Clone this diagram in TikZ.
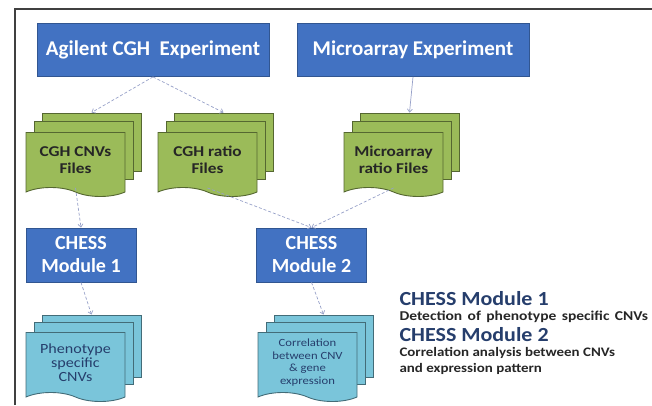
\documentclass[tikz,border=0pt]{standalone}
\usepackage{fontspec}
\setmainfont{Carlito}
\newfontfamily\widefont{Carlito}[FakeStretch=1.15]
\newfontfamily\titlefont{Carlito}[FakeStretch=1.1]
\usetikzlibrary{shapes.symbols,arrows.meta,positioning}

\definecolor{boxblue}{RGB}{66,114,194}
\definecolor{docgreen}{RGB}{155,187,89}
\definecolor{docaqua}{RGB}{122,197,218}
\definecolor{navy}{RGB}{38,62,108}
\definecolor{flowgray}{RGB}{150,160,200}

\begin{document}
\begin{tikzpicture}[x=1pt, y=1pt,
    expbox/.style={rectangle, fill=boxblue, draw=boxblue!75!black,
        line width=0.8pt, text=white, font=\fontsize{21}{23}\selectfont\bfseries,
        minimum width=232pt, minimum height=53pt},
    chessbox/.style={rectangle, fill=boxblue, draw=boxblue!75!black,
        line width=0.8pt, text=white, align=center,
        font=\fontsize{20}{23}\selectfont\bfseries,
        minimum width=110pt, minimum height=54pt},
    gsheet/.style={rectangle, fill=docgreen, draw=docgreen!55!black,
        line width=0.9pt, minimum width=99pt, minimum height=58pt},
    gdoc/.style={tape, tape bend top=none, tape bend bottom=out and in,
        tape bend height=9pt, fill=docgreen, draw=docgreen!55!black,
        line width=0.9pt, minimum width=99pt, minimum height=64pt,
        align=center, text=black!85,
        font=\widefont\fontsize{15}{17}\selectfont\bfseries},
    asheet/.style={rectangle, fill=docaqua, draw=docaqua!55!black,
        line width=0.9pt, minimum width=99pt, minimum height=62pt},
    adoc/.style={tape, tape bend top=none, tape bend bottom=out and in,
        tape bend height=9pt, fill=docaqua, draw=docaqua!55!black,
        line width=0.9pt, minimum width=99pt, minimum height=69pt,
        align=center, text=navy},
    flow/.style={draw=flowgray, line width=0.7pt,
        -{Straight Barb[length=3pt,width=5pt]}},
    legtitle/.style={anchor=west, text=navy,
        font=\titlefont\fontsize{20}{22}\selectfont\bfseries},
    legtext/.style={anchor=west, text=black!85, align=left,
        font=\widefont\fontsize{13}{16}\selectfont\bfseries}]

    \useasboundingbox (0,0) rectangle (652,405);
    % Frame
    \draw[line width=1.5pt, black!75] (15,0) |- (652,396);

    % Add the experiments
    \node[expbox] (agilent) at (153,355) {Agilent CGH\ \ Experiment};
    \node[expbox] (micro) at (413,355) {Microarray Experiment};

    % Add the file stacks
    \node[gsheet] (cnv3) at (91.5,263) {};
    \node[gsheet] (cnv2) at ([shift={(-8,-8)}]cnv3.center) {};
    \node[gdoc] (cnv) at ([shift={(-8,-10)}]cnv2.center) {CGH CNVs\\Files};

    \node[gsheet] (ratio3) at (223.5,263) {};
    \node[gsheet] (ratio2) at ([shift={(-8,-8)}]ratio3.center) {};
    \node[gdoc] (ratio) at ([shift={(-8,-10)}]ratio2.center) {CGH ratio\\Files};

    \node[gsheet] (mratio3) at (409.5,263) {};
    \node[gsheet] (mratio2) at ([shift={(-8,-8)}]mratio3.center) {};
    \node[gdoc] (mratio) at ([shift={(-8,-10)}]mratio2.center) {Microarray\\ratio Files};

    % Add the modules
    \node[chessbox] (chess1) at (81,150) {CHESS\\Module 1};
    \node[chessbox] (chess2) at (311.5,150) {CHESS\\Module 2};

    % Add the results
    \node[asheet] (pheno3) at (91.5,59) {};
    \node[asheet] (pheno2) at ([shift={(-8,-7)}]pheno3.center) {};
    \node[adoc, font=\widefont\fontsize{14}{14}\selectfont] (pheno)
        at ([shift={(-8,-9.5)}]pheno2.center) {Phenotype\\specific\\CNVs};

    \node[asheet] (corr3) at (323.5,59) {};
    \node[asheet] (corr2) at ([shift={(-8,-7)}]corr3.center) {};
    \node[adoc, font=\widefont\fontsize{11}{12.4}\selectfont] (corr)
        at ([shift={(-8,-9.5)}]corr2.center) {Correlation\\between CNV\\\& gene\\expression};

    % Connect the boxes with arrows
    \draw[flow, densely dashed] (agilent.south) -- (cnv3.north);
    \draw[flow, densely dashed] (agilent.south) -- (ratio3.north);
    \draw[flow] (micro.south) -- (mratio3.north);
    \draw[flow, densely dashed] (cnv.south) -- (chess1.north);
    \draw[flow, densely dashed] (ratio.south) -- (chess2.north);
    \draw[flow, densely dashed] (mratio.south) -- (chess2.north);
    \draw[flow, densely dashed] (chess1.south) -- (pheno3.north);
    \draw[flow, densely dashed] (chess2.south) -- (corr3.north);

    % Legend
    \node[legtitle] (leg1) at (396,106) {CHESS Module 1};
    \node[legtext, font=\widefont\fontsize{13.5}{16}\selectfont\bfseries,
          below=-2pt of leg1.south west, anchor=north west] (leg1t)
        {\spaceskip=0.4em\relax Detection of phenotype specific CNVs};
    \node[legtitle, below=-2pt of leg1t.south west, anchor=north west] (leg2)
        {CHESS Module 2};
    \node[legtext, below=-2pt of leg2.south west, anchor=north west] (leg2t)
        {Correlation analysis between CNVs\\and expression pattern};
\end{tikzpicture}
\end{document}
